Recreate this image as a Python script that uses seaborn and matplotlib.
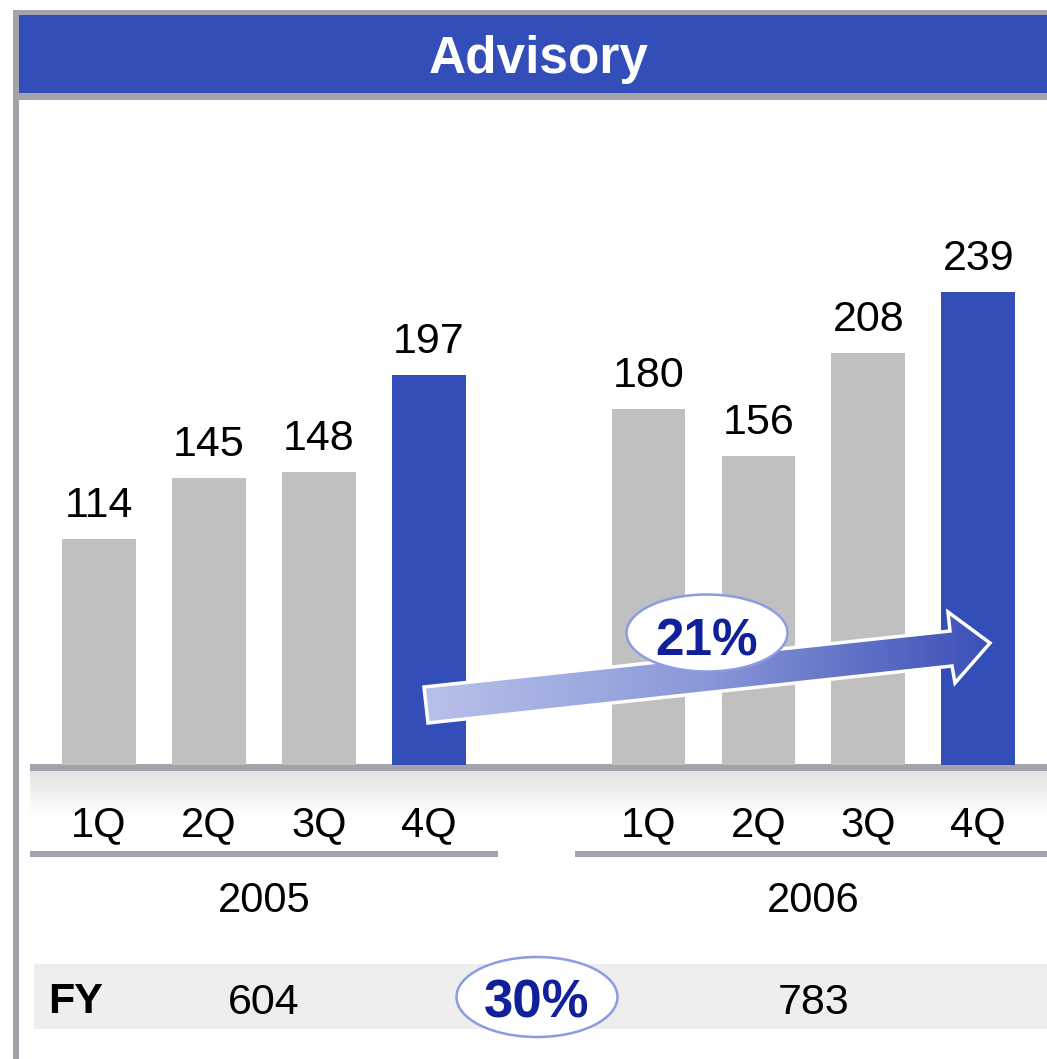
import numpy as np
import pandas as pd
import matplotlib
matplotlib.use("Agg")
import matplotlib.pyplot as plt
import seaborn as sns
from matplotlib.patches import Rectangle, Ellipse, Polygon
from matplotlib.colors import LinearSegmentedColormap

# data
title = "Advisory"
years = ["2005", "2006"]
quarters = ["1Q", "2Q", "3Q", "4Q"]
revenue_2005 = [114, 145, 148, 197]
revenue_2006 = [180, 156, 208, 239]
fy_totals = [604, 783]
q4_growth = "21%"
fy_growth = "30%"

BLUE = "#344EB9"
GRAY = "#C0C0C0"
FRAME = "#A3A3AB"
NAVY = "#10209A"
RING = "#8C9CE0"

df = pd.DataFrame({
    "year": np.repeat(years, len(quarters)),
    "quarter": quarters * len(years),
    "value": revenue_2005 + revenue_2006,
})
# leave one empty slot between the two years
df["slot"] = (df["year"].map({y: i * (len(quarters) + 1) for i, y in enumerate(years)})
              + df["quarter"].map({q: i for i, q in enumerate(quarters)}))
df["highlight"] = df["quarter"] == quarters[-1]

sns.set_style("white")
plt.rcParams["font.family"] = ["Liberation Sans", "DejaVu Sans"]
plt.rcParams["text.color"] = "black"
plt.rcParams["xtick.labelcolor"] = "black"

W, H = 1047, 1059
BASE, TOP = 765, 100          # pixel rows of bar baseline / top of bar axes
SLOT_PX, FIRST_PX = 109.9, 99  # px per slot, centre of first bar
PX_PER_UNIT = 1.979

fig = plt.figure(figsize=(W / 100, H / 100), dpi=100)


def ax_y(py):
    return (BASE - py) / (BASE - TOP)


def pixel_axes(z):
    a = fig.add_axes([0, 0, 1, 1], zorder=z)
    a.patch.set_visible(False)
    a.axis("off")
    return a


# background decoration (pixel coordinates)
back = pixel_axes(0)
back.add_patch(Rectangle((13, 10), W - 13, 5, color=FRAME, lw=0))
back.add_patch(Rectangle((13, 10), 6, H - 10, color=FRAME, lw=0))
back.add_patch(Rectangle((19, 15), W - 19, 78, color=BLUE, lw=0))
back.add_patch(Rectangle((13, 93), W - 13, 7, color=FRAME, lw=0))
back.text(539, 73, title, color="white", fontsize=37, fontweight="bold",
          ha="center", va="baseline")

band = LinearSegmentedColormap.from_list("band", ["#E2E2E2", "#FFFFFF"])
back.imshow(np.linspace(0, 1, 64).reshape(-1, 1), cmap=band, aspect="auto",
            extent=(30, W, 815, 771), origin="upper", zorder=1)
back.add_patch(Rectangle((30, 764), W - 30, 7, color=FRAME, lw=0, zorder=2))
back.add_patch(Rectangle((30, 851), 468, 6, color=FRAME, lw=0))
back.add_patch(Rectangle((575, 851), W - 575, 6, color=FRAME, lw=0))
back.add_patch(Rectangle((34, 964), W - 34, 65, color="#EEEEEE", lw=0))
back.text(48, 1013, "FY", fontsize=31, fontweight="bold", ha="left", va="baseline")
back.set_xlim(0, W)
back.set_ylim(H, 0)

# bars
ax = fig.add_axes([0, (H - BASE) / H, 1, (BASE - TOP) / H], zorder=1)
sns.barplot(data=df, x="slot", y="value", hue="highlight",
            palette={False: GRAY, True: BLUE}, native_scale=True, dodge=False,
            width=0.67, saturation=1, linewidth=0, legend=False, ax=ax)
ax.set_xlim(-FIRST_PX / SLOT_PX, (W - FIRST_PX) / SLOT_PX)
ax.set_ylim(0, (BASE - TOP) / PX_PER_UNIT)
ax.set_xticks(df["slot"], labels=df["quarter"], fontsize=30)
ax.tick_params(axis="x", length=0, pad=29)
ax.set_yticks([])
ax.set_xlabel("")
ax.set_ylabel("")
sns.despine(ax=ax, left=True, bottom=True)
ax.patch.set_visible(False)

for c in ax.containers:
    ax.bar_label(c, fontsize=31, padding=9.5)

for i, y in enumerate(years):
    xc = df.loc[df["year"] == y, "slot"].mean()
    ax.text(xc, ax_y(912), y, transform=ax.get_xaxis_transform(),
            ha="center", va="baseline", fontsize=30, clip_on=False)
    ax.text(xc, ax_y(1014), str(fy_totals[i]), transform=ax.get_xaxis_transform(),
            ha="center", va="baseline", fontsize=31, clip_on=False)

# front: growth arrow and bubbles
front = pixel_axes(3)
arrow_pts = [(424, 687), (950, 631), (948, 612), (990, 643),
             (955, 683), (952, 666), (428, 723)]
arrow = Polygon(arrow_pts, closed=True, fc="none", ec="white", lw=2.5,
                joinstyle="miter", zorder=4)
grad = LinearSegmentedColormap.from_list("arrow", ["#B9C2EA", "#8A97D8", "#3A4FB7"])
im = front.imshow(np.linspace(0, 1, 256).reshape(1, -1), cmap=grad, aspect="auto",
                  extent=(420, 995, 735, 600), origin="upper", zorder=3)
front.add_patch(arrow)
im.set_clip_path(arrow)

front.add_patch(Ellipse((707, 633), 161, 77, fc="white", ec=RING, lw=1.8, zorder=5))
front.text(707, 655, q4_growth, color=NAVY, fontsize=37, fontweight="bold",
           ha="center", va="baseline", zorder=6)
front.add_patch(Ellipse((537, 997), 161, 80, fc="white", ec=RING, lw=1.8, zorder=5))
front.text(537, 1017, fy_growth, color=NAVY, fontsize=38, fontweight="bold",
           ha="center", va="baseline", zorder=6)
front.set_xlim(0, W)
front.set_ylim(H, 0)

fig.savefig("out.png", dpi=100, facecolor="white")
plt.close(fig)
